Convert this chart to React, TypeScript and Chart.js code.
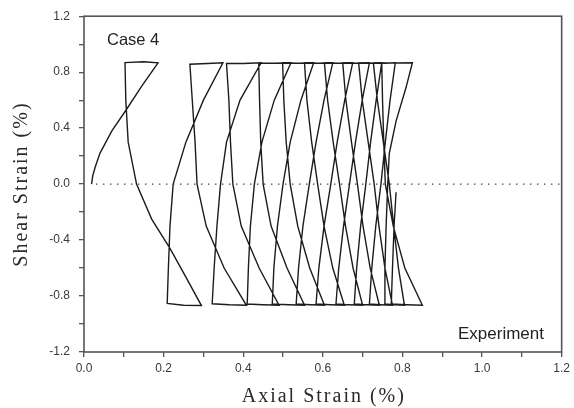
import { useEffect, useRef } from 'react';
import { Chart, registerables } from 'chart.js';

Chart.register(...registerables);

type Pt = [number, number];

// Axis ticks (every tick is drawn, only these carry a label)
const xTickValues = [0, 0.1, 0.2, 0.3, 0.4, 0.5, 0.6, 0.7, 0.8, 0.9, 1.0, 1.1, 1.2];
const xTickLabels = ['0.0', '0.2', '0.4', '0.6', '0.8', '1.0', '1.2'];
const yTickValues = [-1.2, -1.0, -0.8, -0.6, -0.4, -0.2, 0, 0.2, 0.4, 0.6, 0.8, 1.0, 1.2];
const yTickLabels = ['-1.2', '-0.8', '-0.4', '0.0', '0.4', '0.8', '1.2'];

// Axial strain (%) vs shear strain (%), one array per loading cycle:
// rise to +peak, top reversal, fall to -peak, bottom reversal.
const cycle1: Pt[] = [
  [0.019, 0], [0.022, 0.06], [0.028, 0.12], [0.04, 0.22], [0.07, 0.38], [0.107, 0.535], [0.145, 0.7], [0.186, 0.867],
  [0.15, 0.874], [0.103, 0.868],
  [0.105, 0.6], [0.111, 0.3], [0.132, 0], [0.17, -0.25], [0.216, -0.46], [0.255, -0.66], [0.295, -0.868],
  [0.25, -0.866], [0.209, -0.853],
];
const cycle2: Pt[] = [
  [0.212, -0.6], [0.216, -0.3], [0.224, 0], [0.256, 0.3], [0.3, 0.6], [0.349, 0.867],
  [0.31, 0.862], [0.266, 0.857],
  [0.272, 0.6], [0.279, 0.3], [0.284, 0], [0.307, -0.3], [0.352, -0.6], [0.408, -0.866],
  [0.365, -0.862], [0.322, -0.855],
];
const cycle3: Pt[] = [
  [0.327, -0.6], [0.334, -0.3], [0.343, 0], [0.358, 0.3], [0.392, 0.6], [0.445, 0.867],
  [0.4, 0.862], [0.358, 0.862],
  [0.364, 0.6], [0.368, 0.3], [0.374, 0], [0.395, -0.3], [0.44, -0.6], [0.49, -0.866],
  [0.45, -0.862], [0.41, -0.857],
];
const cycle4: Pt[] = [
  [0.413, -0.6], [0.418, -0.3], [0.428, 0], [0.447, 0.3], [0.478, 0.6], [0.52, 0.867],
  [0.48, 0.864], [0.439, 0.866],
  [0.441, 0.6], [0.444, 0.3], [0.45, 0], [0.47, -0.3], [0.51, -0.6], [0.554, -0.866],
  [0.515, -0.862], [0.473, -0.857],
];
const cycle5: Pt[] = [
  [0.477, -0.6], [0.486, -0.3], [0.5, 0], [0.518, 0.3], [0.545, 0.6], [0.577, 0.867],
  [0.54, 0.864], [0.499, 0.866],
  [0.502, 0.6], [0.508, 0.3], [0.518, 0], [0.537, -0.3], [0.567, -0.6], [0.604, -0.866],
  [0.57, -0.862], [0.533, -0.857],
];
const cycle6: Pt[] = [
  [0.539, -0.6], [0.55, -0.3], [0.566, 0], [0.583, 0.3], [0.603, 0.6], [0.625, 0.867],
  [0.59, 0.864], [0.554, 0.866],
  [0.56, 0.6], [0.572, 0.3], [0.587, 0], [0.603, -0.3], [0.625, -0.6], [0.654, -0.866],
  [0.62, -0.862], [0.583, -0.857],
];
const cycle7: Pt[] = [
  [0.59, -0.6], [0.603, -0.3], [0.62, 0], [0.636, 0.3], [0.655, 0.6], [0.675, 0.867],
  [0.64, 0.864], [0.604, 0.866],
  [0.612, 0.6], [0.626, 0.3], [0.642, 0], [0.657, -0.3], [0.676, -0.6], [0.7, -0.866],
  [0.665, -0.862], [0.633, -0.857],
];
const cycle8: Pt[] = [
  [0.64, -0.6], [0.652, -0.3], [0.667, 0], [0.682, 0.3], [0.699, 0.6], [0.717, 0.867],
  [0.685, 0.864], [0.65, 0.866],
  [0.658, 0.6], [0.672, 0.3], [0.687, 0], [0.701, -0.3], [0.719, -0.6], [0.742, -0.866],
  [0.71, -0.862], [0.679, -0.857],
];
const cycle9: Pt[] = [
  [0.685, -0.6], [0.695, -0.3], [0.708, 0], [0.72, 0.3], [0.734, 0.6], [0.748, 0.867],
  [0.72, 0.864], [0.69, 0.866],
  [0.699, 0.6], [0.714, 0.3], [0.729, 0], [0.741, -0.3], [0.756, -0.6], [0.775, -0.866],
  [0.745, -0.862], [0.717, -0.857],
];
const cycle10: Pt[] = [
  [0.723, -0.6], [0.733, -0.3], [0.746, 0], [0.757, 0.3], [0.769, 0.6], [0.782, 0.867],
  [0.755, 0.864], [0.727, 0.866],
  [0.737, 0.6], [0.752, 0.3], [0.767, 0], [0.778, -0.3], [0.79, -0.6], [0.805, -0.866],
  [0.78, -0.862], [0.754, -0.857],
];
const cycle11: Pt[] = [
  [0.756, -0.6], [0.759, -0.3], [0.763, 0], [0.767, 0.22], [0.784, 0.45], [0.809, 0.69], [0.825, 0.867],
  [0.79, 0.866], [0.748, 0.866],
  [0.75, 0.6], [0.753, 0.3], [0.757, 0], [0.777, -0.3], [0.806, -0.6], [0.85, -0.866],
  [0.81, -0.862], [0.772, -0.857],
];
const finalBranch: Pt[] = [[0.775, -0.6], [0.779, -0.3], [0.784, -0.058]];

// Zero-shear reference line
const zeroLine: Pt[] = [[0.03, 0], [1.2, 0]];

const strainPath = [
  ...cycle1, ...cycle2, ...cycle3, ...cycle4, ...cycle5, ...cycle6,
  ...cycle7, ...cycle8, ...cycle9, ...cycle10, ...cycle11, ...finalBranch,
];

const SANS = '"Liberation Sans", Arial, sans-serif';
const SERIF = '"Liberation Serif", "Times New Roman", serif';
const AXIS_COLOR = '#555';

const fmt = (v: number) => (Math.round(v * 10) / 10).toFixed(1);

const decorations = {
  id: 'decorations',
  afterDatasetsDraw(chart: Chart) {
    const { ctx, chartArea } = chart;
    ctx.save();
    // Plot frame
    ctx.strokeStyle = AXIS_COLOR;
    ctx.lineWidth = 1.6;
    ctx.strokeRect(chartArea.left, chartArea.top, chartArea.right - chartArea.left, chartArea.bottom - chartArea.top);

    // In-plot labels
    ctx.fillStyle = '#222';
    ctx.textBaseline = 'alphabetic';
    ctx.textAlign = 'left';
    ctx.font = `16.5px ${SANS}`;
    ctx.fillText('Case 4', 107, 45);
    ctx.font = `17px ${SANS}`;
    ctx.fillText('Experiment', 458, 339);

    // Axis titles
    ctx.fillStyle = '#2a2a2a';
    ctx.font = `20px ${SERIF}`;
    (ctx as any).letterSpacing = '2px';
    ctx.textAlign = 'center';
    ctx.fillText('Axial Strain (%)', (chartArea.left + chartArea.right) / 2 + 1, 402);
    ctx.translate(27, (chartArea.top + chartArea.bottom) / 2);
    ctx.rotate(-Math.PI / 2);
    ctx.fillText('Shear Strain (%)', 0, 0);
    ctx.restore();
  },
};

export default function App() {
  const canvasRef = useRef<HTMLCanvasElement | null>(null);

  useEffect(() => {
    const canvas = canvasRef.current;
    if (!canvas) return;
    const chart = new Chart(canvas, {
      type: 'scatter',
      data: {
        datasets: [
          {
            data: zeroLine.map(([x, y]) => ({ x, y })),
            showLine: true,
            borderColor: '#444',
            borderWidth: 1.2,
            borderDash: [1.5, 5.5],
            pointRadius: 0,
          },
          {
            data: strainPath.map(([x, y]) => ({ x, y })),
            showLine: true,
            borderColor: '#1c1c1c',
            borderWidth: 1.4,
            pointRadius: 0,
            tension: 0,
          },
        ],
      },
      options: {
        responsive: false,
        animation: false,
        devicePixelRatio: 1,
        layout: { padding: { top: 15, right: 11, left: 0, bottom: 0 } },
        plugins: { legend: { display: false }, tooltip: { enabled: false } },
        scales: {
          x: {
            type: 'linear',
            min: 0,
            max: 1.2,
            border: { display: false },
            grid: { drawOnChartArea: false, drawTicks: true, tickLength: 5, color: AXIS_COLOR, lineWidth: 1.3 },
            afterBuildTicks: (scale: any) => {
              scale.ticks = xTickValues.map((v) => ({ value: v }));
            },
            afterFit: (scale: any) => {
              scale.height = 56;
            },
            ticks: {
              autoSkip: false,
              padding: 4,
              color: '#3a3a3a',
              font: { family: SANS, size: 12 },
              callback: (v: any) => (xTickLabels.includes(fmt(Number(v))) ? fmt(Number(v)) : ''),
            },
          },
          y: {
            type: 'linear',
            min: -1.2,
            max: 1.2,
            border: { display: false },
            grid: { drawOnChartArea: false, drawTicks: true, tickLength: 5, color: AXIS_COLOR, lineWidth: 1.3 },
            afterBuildTicks: (scale: any) => {
              scale.ticks = yTickValues.map((v) => ({ value: v }));
            },
            afterFit: (scale: any) => {
              scale.width = 84;
            },
            ticks: {
              autoSkip: false,
              padding: 9,
              color: '#3a3a3a',
              font: { family: SANS, size: 12 },
              callback: (v: any) => (yTickLabels.includes(fmt(Number(v))) ? fmt(Number(v)) : ''),
            },
          },
        },
      },
      plugins: [decorations],
    });
    return () => chart.destroy();
  }, []);

  return (
    <div style={{ position: 'fixed', left: 0, top: 0, width: 574, height: 408, background: '#fff' }}>
      <canvas ref={canvasRef} width={574} height={408} style={{ display: 'block', width: 574, height: 408 }} />
    </div>
  );
}
